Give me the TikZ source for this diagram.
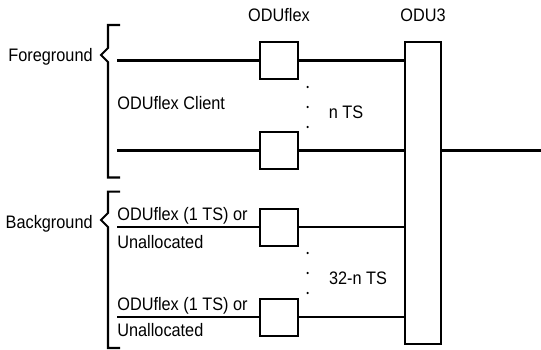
\documentclass[tikz,border=0pt]{standalone}
\usepackage{fontspec}
\setmainfont{Liberation Sans}[FakeStretch=0.9]
\usetikzlibrary{positioning}
\tikzset{
  tsbox/.style={draw,line width=1.15pt,minimum width=0.76cm,minimum height=0.74cm,inner sep=0pt},
  lbl/.style={font=\fontsize{10.3}{12}\selectfont,inner sep=0pt},
  wire/.style={line width=1.15pt},
  tsdot/.style={circle,fill,inner sep=0pt,minimum size=1.4pt},
}

\begin{document}
\begin{tikzpicture}[x=0.02cm,y=-0.02cm]
\useasboundingbox (0,0) rectangle (541,349);
% ODU3 and the ODUflex boxes
\node[tsbox,minimum width=0.72cm,minimum height=6.04cm] (odu3) at (423,193) {};
\node[lbl,anchor=base] (odu3lbl) at (423,21.5) {ODU3};
\node[tsbox] (fg1) at (279,60.5) {};
\node[tsbox] (fg2) at (279,150.5) {};
\node[tsbox] (bg1) at (279,227.3) {};
\node[tsbox] (bg2) at (279,317.3) {};
\node[lbl,anchor=base] (oduflexlbl) at (279,21.5) {ODUflex};
% wire ends
\coordinate (fgin1) at (117,60.5);
\coordinate (fgin2) at (117,150.5);
\coordinate (bgin1) at (117,227.3);
\coordinate (bgin2) at (117,317.3);
\coordinate (out) at (541,150.5);
\draw[wire] (fgin1) -- (fg1) -- (fg1 -| odu3.west);
\draw[wire] (fgin2) -- (fg2) -- (fg2 -| odu3.west);
\draw[wire] (bgin1) -- (bg1) -- (bg1 -| odu3.west);
\draw[wire] (bgin2) -- (bg2) -- (bg2 -| odu3.west);
\draw[wire] (odu3.east |- out) -- (out);
% dots and TS counts
\foreach \y [count=\i] in {87,107,127} \node[tsdot] (ndot\i) at (307.7,\y) {};
\foreach \y [count=\i] in {253,273,293} \node[tsdot] (mdot\i) at (307.7,\y) {};
\node[lbl,anchor=base] (nts) at (346,118) {n TS};
\node[lbl,anchor=base] (mts) at (358,284) {32-n TS};
% client labels
\node[lbl,anchor=base west] (client) at (117,109) {ODUflex Client};
\node[lbl,anchor=base west] (bgtxt1) at (117,220.5) {ODUflex (1 TS) or};
\node[lbl,anchor=base west] (bgtxt2) at (117,248) {Unallocated};
\node[lbl,anchor=base west] (bgtxt3) at (117,310.5) {ODUflex (1 TS) or};
\node[lbl,anchor=base west] (bgtxt4) at (117,336.5) {Unallocated};
% brackets
\draw[wire] (120,25) -- (108,25) -- (108,48) -- (101,55) -- (108,62) -- (108,177.5) -- (120,177.5);
\draw[wire] (120,191.7) -- (108,191.7) -- (108,213) -- (101,220) -- (108,227) -- (108,348) -- (120,348);
\node[lbl,anchor=base east] (fgtxt) at (93,61) {Foreground};
\node[lbl,anchor=base east] (bgtxt) at (93,228.3) {Background};
\end{tikzpicture}
\end{document}
